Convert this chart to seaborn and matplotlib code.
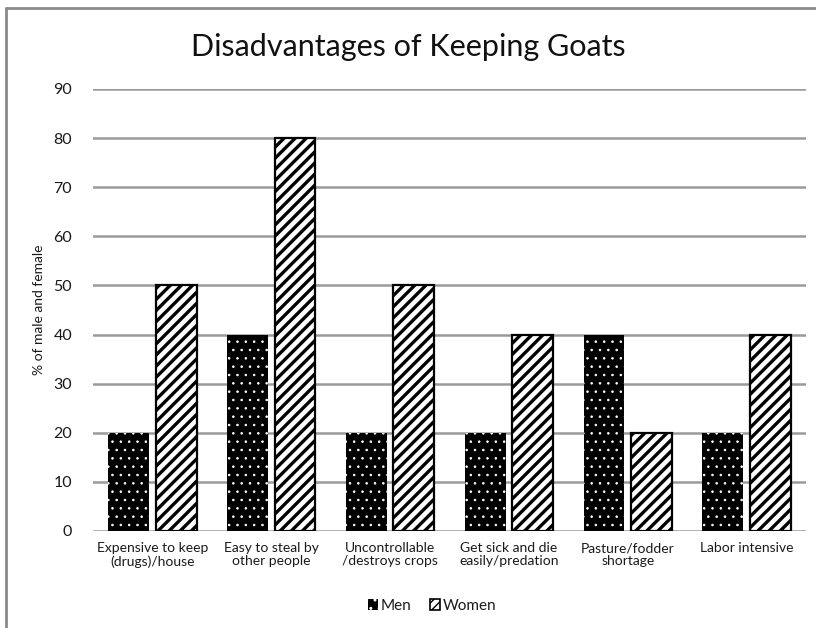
import matplotlib
matplotlib.use("Agg")
import matplotlib.pyplot as plt
from matplotlib.patches import Patch
from matplotlib.lines import Line2D
import seaborn as sns
import pandas as pd

categories = [
    "Expensive to keep\n(drugs)/house",
    "Easy to steal by\nother people",
    "Uncontrollable\n/destroys crops",
    "Get sick and die\neasily/predation",
    "Pasture/fodder\nshortage",
    "Labor intensive",
]
men = [20, 40, 20, 20, 40, 20]
women = [50, 80, 50, 40, 20, 40]
series = ["Men", "Women"]
y_ticks = [0, 10, 20, 30, 40, 50, 60, 70, 80, 90]

df = pd.DataFrame({
    "category": categories * 2,
    "group": [series[0]] * len(men) + [series[1]] * len(women),
    "value": men + women,
})

sns.set_theme(style="white")
plt.rcParams["font.family"] = ["Lato", "DejaVu Sans"]
plt.rcParams["hatch.linewidth"] = 1.0

fig = plt.figure(figsize=(8.16, 6.28), dpi=100)
ax = fig.add_axes([93 / 816, 1 - 531 / 628, (806 - 93) / 816, (531 - 89) / 628])

sns.barplot(data=df, x="category", y="value", hue="group", order=categories,
            hue_order=series, width=0.8, gap=0.14, ax=ax, legend=False)

styles = {
    "Men": dict(facecolor="black", edgecolor="white", hatch="..", lw=0.0, hlw=0.6),
    "Women": dict(facecolor="white", edgecolor="black", hatch="///", lw=1.6, hlw=2.4),
}

n = len(categories)
for i, bar in enumerate(ax.patches[:2 * n]):
    st = styles[series[i // n]]
    bar.set_facecolor(st["facecolor"])
    bar.set_edgecolor(st["edgecolor"])
    bar.set_hatch(st["hatch"])
    bar.set_linewidth(st["lw"])
    if hasattr(bar, "set_hatch_linewidth"):
        bar.set_hatch_linewidth(st["hlw"])
    bar.set_zorder(3)

ax.set_ylim(0, 90)
ax.set_yticks(y_ticks)
ax.set_xlim(-0.5, n - 0.5)
ax.grid(axis="y", color="#9a9a9a", linewidth=1.8, zorder=0)
ax.grid(axis="x", visible=False)
for s in ax.spines.values():
    s.set_visible(False)
ax.tick_params(axis="y", length=0, pad=15, labelsize=11.5, colors="#1a1a1a")
ax.tick_params(axis="x", length=0, pad=8, labelsize=10, colors="#1a1a1a")
ax.set_xlabel("")
ax.set_ylabel("% of male and female", fontsize=10, color="#1a1a1a", labelpad=6)
for lab in ax.get_xticklabels():
    lab.set_verticalalignment("top")
    lab.set_linespacing(1.1)

fig.text(0.5, 1 - 47 / 628, "Disadvantages of Keeping Goats", ha="center",
         va="center", fontsize=22, color="#111111")

handles = []
for name in series:
    if name == "Men":
        h = Patch(facecolor="black", edgecolor="white", hatch="..", linewidth=0, label=name)
    else:
        h = Patch(facecolor="white", edgecolor="black", hatch="////", linewidth=1.2, label=name)
    handles.append(h)
fig.legend(handles=handles, loc="center", bbox_to_anchor=(432 / 816, 1 - 606 / 628),
           ncol=2, frameon=False, fontsize=11, handlelength=0.7, handleheight=0.7,
           handletextpad=0.15, columnspacing=1.2, labelcolor="#1a1a1a")

# thin frame around the chart area
fig.add_artist(Line2D([6 / 816, 6 / 816], [0, 1 - 8 / 628], transform=fig.transFigure,
                      color="#8a8a8a", linewidth=2))
fig.add_artist(Line2D([6 / 816, 1], [1 - 8 / 628, 1 - 8 / 628], transform=fig.transFigure,
                      color="#8a8a8a", linewidth=2))

fig.savefig("out.png", dpi=100, facecolor="white")
